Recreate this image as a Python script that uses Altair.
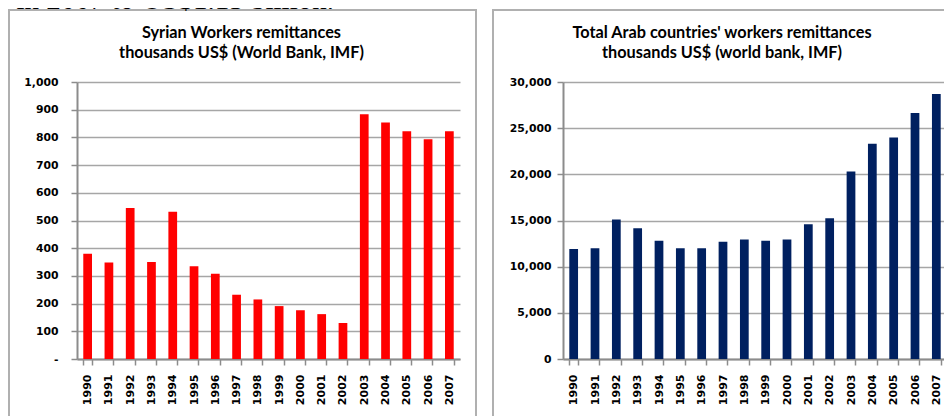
import altair as alt
import pandas as pd

years = [str(y) for y in range(1990, 2008)]
syria = [380, 348, 545, 350, 532, 335, 308, 232, 215, 191, 176, 162, 130, 884, 854, 822, 793, 822]
arab = [11900, 12000, 15100, 14150, 12800, 12000, 12000, 12700, 12950, 12800, 12950,
        14600, 15250, 20300, 23300, 24000, 26650, 28700]
left_title = ["Syrian Workers remittances", "thousands US$ (World Bank, IMF)"]
right_title = ["Total Arab countries' workers remittances", "thousands US$ (world bank, IMF)"]
left_ticks = list(range(0, 1001, 100))
right_ticks = list(range(0, 30001, 5000))
header_text = "s in 2007 to US$1.15 billion."

GRID = "#a6a6a6"
AXIS = "#8c8c8c"
BORDER = "#b0b0b0"
LABEL_FONT = "DejaVu Sans"
TITLE_FONT = "Lato"

one = pd.DataFrame({"k": [0]})


def x_axis():
    return alt.Axis(title=None, labelAngle=270, labelFont=LABEL_FONT, labelFontWeight="bold",
                    labelFontSize=11, labelColor="black", tickBand="extent", tickSize=6,
                    tickColor=AXIS, tickWidth=1.5, domainColor=AXIS, domainWidth=2,
                    labelPadding=9, grid=False)


def y_axis(values, label_expr, pad):
    return alt.Axis(title=None, values=values, labelExpr=label_expr, labelFont=LABEL_FONT,
                    labelFontWeight="bold", labelFontSize=10.8, labelColor="black",
                    tickSize=6, tickColor=AXIS, tickWidth=1.5, domainColor=AXIS, domainWidth=2,
                    grid=True, gridColor=GRID, gridWidth=1.5, labelPadding=pad)


def panel(values, color, ymax, ticks, label_expr, pad, title_lines, title_x, width, right_edge, left_edge):
    df = pd.DataFrame({"year": years, "value": values})
    bars = alt.Chart(df).mark_bar(color=color).encode(
        x=alt.X("year:N", sort=years, axis=x_axis(),
                scale=alt.Scale(paddingInner=0.59, paddingOuter=0.295)),
        y=alt.Y("value:Q", axis=y_axis(ticks, label_expr, pad),
                scale=alt.Scale(domain=[0, ymax], nice=False)),
    )
    border = alt.Chart(one).mark_rect(fillOpacity=0, stroke=BORDER, strokeWidth=2).encode(
        x=alt.value(left_edge), x2=alt.value(right_edge), y=alt.value(-72), y2=alt.value(360)
    )
    title = alt.Chart(one).mark_text(font=TITLE_FONT, fontWeight="bold", fontSize=16.3,
                                     color="black", align="center", baseline="alphabetic",
                                     lineHeight=20.5).encode(
        x=alt.value(title_x), y=alt.value(-44.5), text=alt.value(title_lines)
    )
    return alt.layer(bars, border, title).properties(width=width, height=277)


left = panel(syria, "#ff0000", 1000, left_ticks,
             "datum.value == 0 ? '-' : format(datum.value, ',')", 13,
             left_title, 164.5, 383, 399, -68)
header = alt.Chart(one).mark_text(font="Liberation Serif", fontSize=29, color="black",
                                  align="left", baseline="alphabetic").encode(
    x=alt.value(-79), y=alt.value(-73), text=alt.value(header_text)
)
left = alt.layer(left, header)
right = panel(arab, "#002060", 30000, right_ticks, "format(datum.value, ',')", 6,
              right_title, 159, 384, 420, -70)

chart = alt.hconcat(left, right, spacing=103, bounds="flush").properties(
    autosize=alt.AutoSizeParams(type="none"),
    padding={"left": 69, "top": 74, "right": 867, "bottom": 326},
).configure_view(strokeWidth=0)

chart.save("out.html", embed_options={"renderer": "svg", "actions": False})
